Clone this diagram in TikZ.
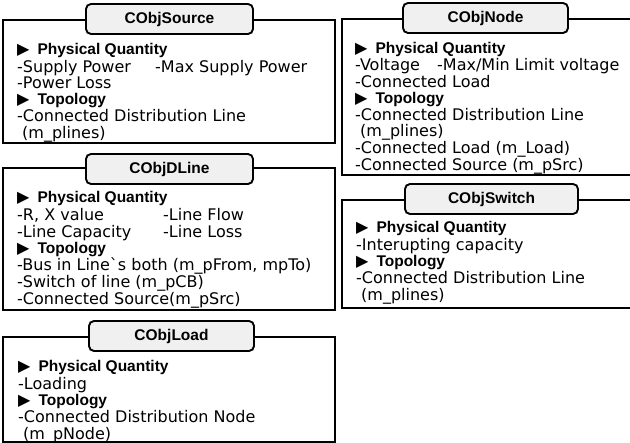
\documentclass[tikz,border=0pt]{standalone}
\usepackage{fontspec}
\setmainfont{DejaVu Sans}
\newfontfamily\headfont{Liberation Sans}
\newfontfamily\symfont{DejaVu Sans}
\usetikzlibrary{positioning}

\newcommand{\head}[1]{{\symfont\fontsize{16}{16}\selectfont ▶}\hspace{8pt}{\headfont\bfseries\fontsize{15.5}{15.5}\selectfont #1}}
\newcommand{\pair}[3]{\makebox[#1][l]{#2}#3}

\begin{document}
\begin{tikzpicture}[x=1pt, y=-1pt,
  objbox/.style={draw, line width=1.9pt},
  objtitle/.style={draw, line width=1.9pt, rounded corners=5pt, fill=gray!12,
    minimum height=30pt, inner sep=0pt,
    font=\headfont\bfseries\fontsize{15.5}{18}\selectfont},
  objtext/.style={anchor=base west, inner sep=0pt,
    font=\fontsize{16}{16.2}\selectfont}
]
  \def\xL{3}   \def\xLr{335}
  \def\xR{342} \def\xRr{630}
  \useasboundingbox (0,0) rectangle (630,443);

  %--- left column frames ---
  \draw[objbox] (\xL,20)  rectangle (\xLr,143);
  \draw[objbox] (\xL,168) rectangle (\xLr,310);
  \draw[objbox] (\xL,337) rectangle (\xLr,442);

  %--- right column frames (run off the right edge) ---
  \draw[objbox] (\xRr,19)  -- (\xR,19)  -- (\xR,175) -- (\xRr,175);
  \draw[objbox] (\xRr,200) -- (\xR,200) -- (\xR,308) -- (\xRr,308);

  %--- titles ---
  \node[objtitle, minimum width=167pt] (srctitle)    at (169.5,19)  {CObjSource};
  \node[objtitle, minimum width=165pt] (nodetitle)   at (485.5,18)  {CObjNode};
  \node[objtitle, minimum width=167pt] (dlinetitle)  at (169.5,169) {CObjDLine};
  \node[objtitle, minimum width=173pt] (switchtitle) at (491.5,199) {CObjSwitch};
  \node[objtitle, minimum width=165pt] (loadtitle)   at (171.5,336) {CObjLoad};

  %--- contents ---
  \node[objtext] (srctext) at (17,55) {\begin{tabular}[t]{@{}l@{}}
    \head{Physical Quantity}\\
    \pair{138pt}{-Supply Power}{-Max Supply Power}\\
    -Power Loss\\
    \head{Topology}\\
    -Connected Distribution Line\\
    \hspace{5pt}(m\_plines)
  \end{tabular}};

  \node[objtext, font=\fontsize{16}{15.4}\selectfont] (nodetext) at (355,54) {\begin{tabular}[t]{@{}l@{}}
    \head{Physical Quantity}\\
    \pair{82pt}{-Voltage}{-Max/Min Limit voltage}\\
    -Connected Load\\
    \head{Topology}\\
    -Connected Distribution Line\\
    \hspace{5pt}(m\_plines)\\
    -Connected Load (m\_Load)\\
    -Connected Source (m\_pSrc)
  \end{tabular}};

  \node[objtext] (dlinetext) at (17,203) {\begin{tabular}[t]{@{}l@{}}
    \head{Physical Quantity}\\
    \pair{146pt}{-R, X value}{-Line Flow}\\
    \pair{146pt}{-Line Capacity}{-Line Loss}\\
    \head{Topology}\\
    -Bus in Line\textasciigrave s both (m\_pFrom, mpTo)\\
    -Switch of line (m\_pCB)\\
    -Connected Source(m\_pSrc)
  \end{tabular}};

  \node[objtext] (switchtext) at (356,233) {\begin{tabular}[t]{@{}l@{}}
    \head{Physical Quantity}\\
    -Interupting capacity\\
    \head{Topology}\\
    -Connected Distribution Line\\
    \hspace{5pt}(m\_plines)
  \end{tabular}};

  \node[objtext] (loadtext) at (18,372) {\begin{tabular}[t]{@{}l@{}}
    \head{Physical Quantity}\\
    -Loading\\
    \head{Topology}\\
    -Connected Distribution Node\\
    \hspace{5pt}(m\_pNode)
  \end{tabular}};
\end{tikzpicture}
\end{document}
